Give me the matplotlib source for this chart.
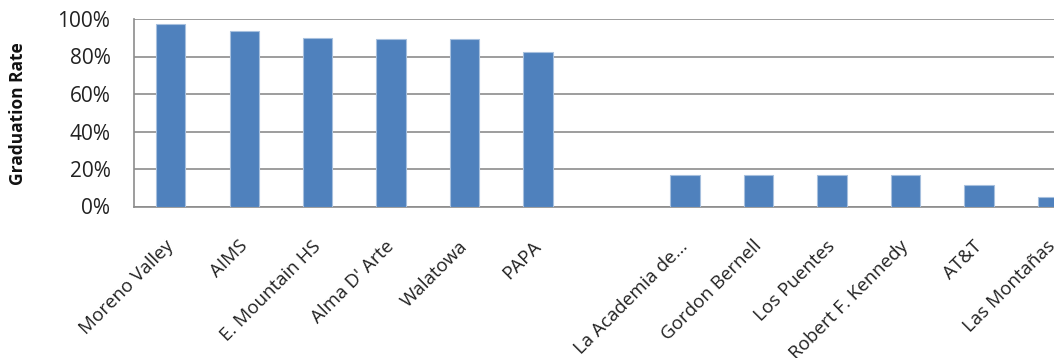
import matplotlib.pyplot as plt
import matplotlib.transforms as mtransforms
import numpy as np

# data
schools = ["Moreno Valley", "AIMS", "E. Mountain HS", "Alma D' Arte", "Walatowa", "PAPA", "",
           "La Academia de...", "Gordon Bernell", "Los Puentes", "Robert F. Kennedy", "AT&T",
           "Las Montañas"]
grad_rate = [0.975, 0.934, 0.90, 0.892, 0.892, 0.824, np.nan,
             0.166, 0.166, 0.166, 0.166, 0.113, 0.049]
y_ticks = [0, 0.2, 0.4, 0.6, 0.8, 1.0]
y_tick_labels = ["0%", "20%", "40%", "60%", "80%", "100%"]

bar_color = "#4F81BD"
grid_color = "#8C8C8C"

plt.rcParams["font.family"] = ["Open Sans", "DejaVu Sans"]

fig = plt.figure(figsize=(10.54, 3.58), dpi=100)
# plot area runs past the right edge of the picture, like the reference
ax = fig.add_axes([134 / 1054, 1 - 206.5 / 358, 955 / 1054, 187.5 / 358])

x = np.arange(len(schools))
ax.bar(x, grad_rate, width=0.4, color=bar_color, edgecolor="#A7C0DE", linewidth=0.8, zorder=3)

ax.set_xlim(-0.5, len(schools) - 0.5)
ax.set_ylim(0, 1)
ax.set_yticks(y_ticks)
ax.set_yticklabels(y_tick_labels, fontsize=15, color="#222222")
ax.yaxis.grid(True, color=grid_color, linewidth=1.2, zorder=0)
ax.tick_params(axis="y", length=0, pad=17)
ax.tick_params(axis="x", length=0, pad=22)

ax.set_xticks(x)
ax.set_xticklabels(schools, rotation=45, ha="right", rotation_mode="anchor",
                   fontsize=13.5, color="#222222")
# nudge the slanted labels a little to the left
shift = mtransforms.ScaledTranslation(-0.06, 0, fig.dpi_scale_trans)
for lbl in ax.get_xticklabels():
    lbl.set_transform(lbl.get_transform() + shift)

for s in ["top", "right"]:
    ax.spines[s].set_visible(False)
for s in ["left", "bottom"]:
    ax.spines[s].set_color(grid_color)
    ax.spines[s].set_linewidth(1.2)

fig.text(18 / 1054, 1 - 114 / 358, "Graduation Rate", rotation=90, ha="center", va="center",
         fontsize=12.5, fontweight="bold", color="#111111")

fig.savefig("out.png", dpi=100)
